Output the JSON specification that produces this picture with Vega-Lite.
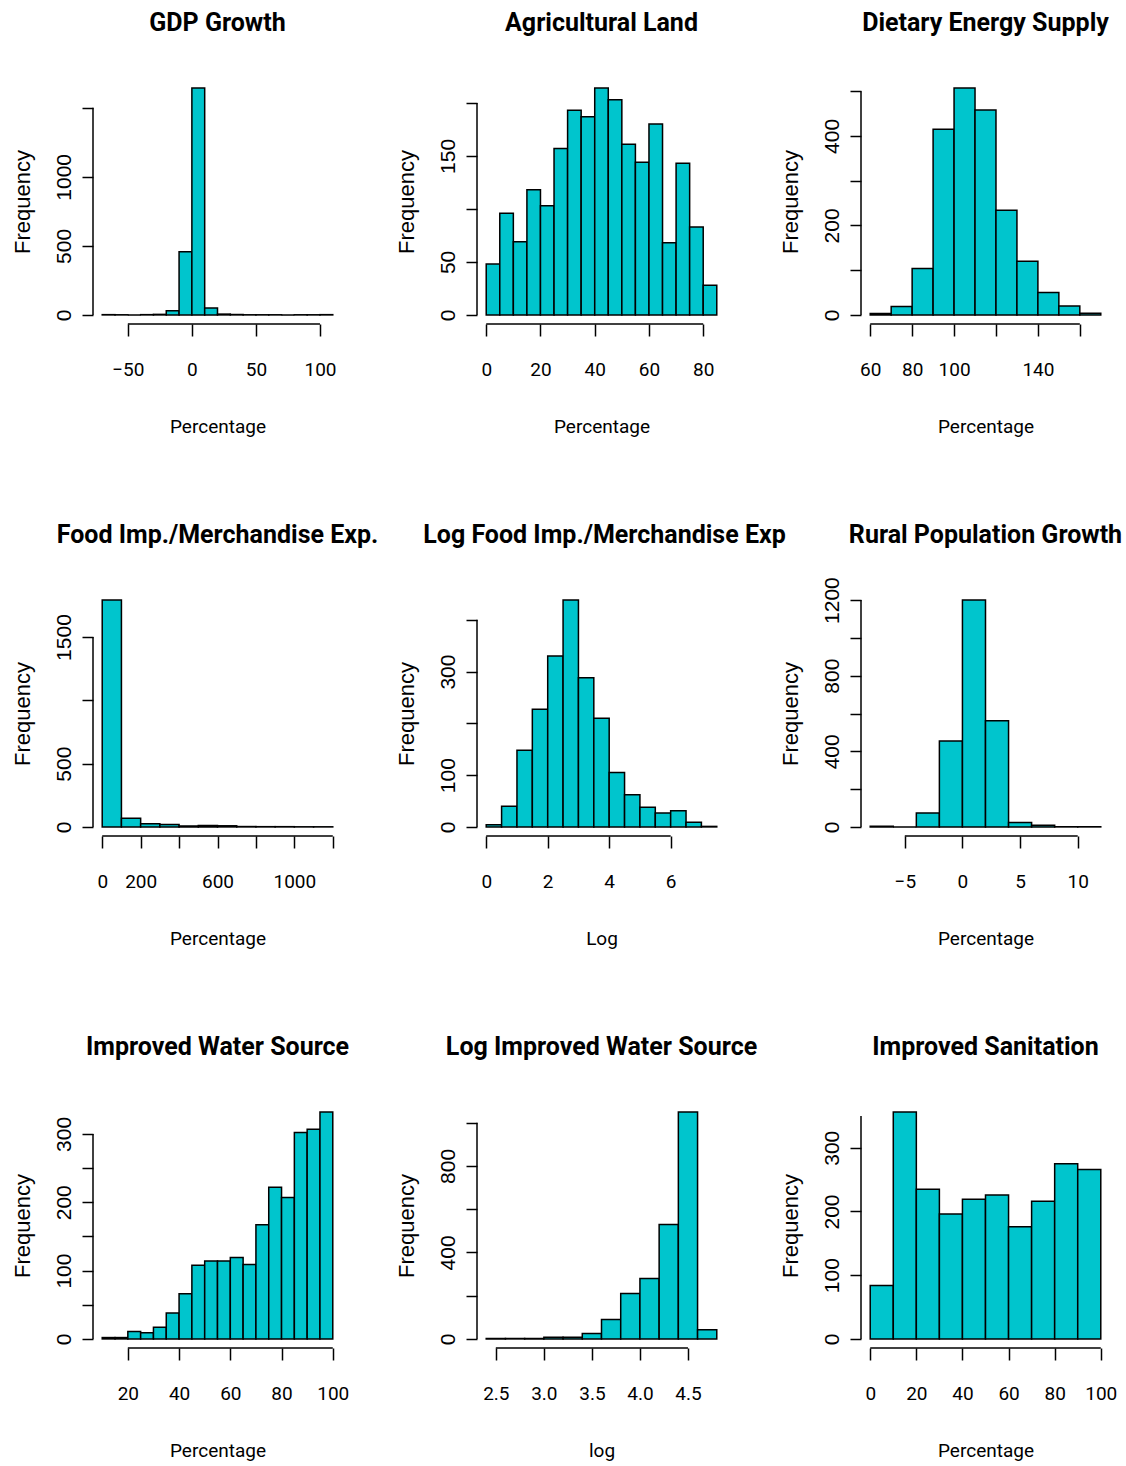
{
"$schema": "https://vega.github.io/schema/vega-lite/v6.json",
"background": "white",
"padding": {"left": 11, "top": 11, "right": 5, "bottom": 5},
"datasets": {
"p1": [{"start":-70,"end":-60,"count":2},{"start":-60,"end":-50,"count":1},{"start":-50,"end":-40,"count":0},{"start":-40,"end":-30,"count":2},{"start":-30,"end":-20,"count":4},{"start":-20,"end":-10,"count":30},{"start":-10,"end":0,"count":458},{"start":0,"end":10,"count":1643},{"start":10,"end":20,"count":50},{"start":20,"end":30,"count":6},{"start":30,"end":40,"count":3},{"start":40,"end":50,"count":1},{"start":50,"end":60,"count":1},{"start":60,"end":70,"count":1},{"start":70,"end":80,"count":0},{"start":80,"end":90,"count":1},{"start":90,"end":100,"count":1},{"start":100,"end":110,"count":2}],
"p2": [{"start":0,"end":5,"count":48},{"start":5,"end":10,"count":96},{"start":10,"end":15,"count":69},{"start":15,"end":20,"count":118},{"start":20,"end":25,"count":103},{"start":25,"end":30,"count":157},{"start":30,"end":35,"count":193},{"start":35,"end":40,"count":187},{"start":40,"end":45,"count":214},{"start":45,"end":50,"count":203},{"start":50,"end":55,"count":161},{"start":55,"end":60,"count":144},{"start":60,"end":65,"count":180},{"start":65,"end":70,"count":68},{"start":70,"end":75,"count":143},{"start":75,"end":80,"count":83},{"start":80,"end":85,"count":28}],
"p3": [{"start":60,"end":70,"count":3},{"start":70,"end":80,"count":19},{"start":80,"end":90,"count":104},{"start":90,"end":100,"count":415},{"start":100,"end":110,"count":507},{"start":110,"end":120,"count":458},{"start":120,"end":130,"count":234},{"start":130,"end":140,"count":120},{"start":140,"end":150,"count":50},{"start":150,"end":160,"count":20},{"start":160,"end":170,"count":4}],
"p4": [{"start":0,"end":100,"count":1792},{"start":100,"end":200,"count":68},{"start":200,"end":300,"count":26},{"start":300,"end":400,"count":20},{"start":400,"end":500,"count":8},{"start":500,"end":600,"count":12},{"start":600,"end":700,"count":9},{"start":700,"end":800,"count":3},{"start":800,"end":900,"count":2},{"start":900,"end":1000,"count":2},{"start":1000,"end":1100,"count":1},{"start":1100,"end":1200,"count":1}],
"p5": [{"start":0,"end":0.5,"count":4},{"start":0.5,"end":1,"count":40},{"start":1,"end":1.5,"count":148},{"start":1.5,"end":2,"count":227},{"start":2,"end":2.5,"count":330},{"start":2.5,"end":3,"count":438},{"start":3,"end":3.5,"count":288},{"start":3.5,"end":4,"count":210},{"start":4,"end":4.5,"count":105},{"start":4.5,"end":5,"count":62},{"start":5,"end":5.5,"count":38},{"start":5.5,"end":6,"count":27},{"start":6,"end":6.5,"count":31},{"start":6.5,"end":7,"count":9},{"start":7,"end":7.5,"count":1}],
"p6": [{"start":-8,"end":-6,"count":3},{"start":-6,"end":-4,"count":0},{"start":-4,"end":-2,"count":74},{"start":-2,"end":0,"count":455},{"start":0,"end":2,"count":1200},{"start":2,"end":4,"count":562},{"start":4,"end":6,"count":23},{"start":6,"end":8,"count":9},{"start":8,"end":10,"count":1},{"start":10,"end":12,"count":1}],
"p7": [{"start":10,"end":15,"count":2},{"start":15,"end":20,"count":2},{"start":20,"end":25,"count":11},{"start":25,"end":30,"count":9},{"start":30,"end":35,"count":17},{"start":35,"end":40,"count":38},{"start":40,"end":45,"count":66},{"start":45,"end":50,"count":108},{"start":50,"end":55,"count":114},{"start":55,"end":60,"count":114},{"start":60,"end":65,"count":119},{"start":65,"end":70,"count":109},{"start":70,"end":75,"count":167},{"start":75,"end":80,"count":222},{"start":80,"end":85,"count":207},{"start":85,"end":90,"count":302},{"start":90,"end":95,"count":307},{"start":95,"end":100,"count":332}],
"p8": [{"start":2.4,"end":2.6,"count":2},{"start":2.6,"end":2.8,"count":2},{"start":2.8,"end":3.0,"count":2},{"start":3.0,"end":3.2,"count":8},{"start":3.2,"end":3.4,"count":8},{"start":3.4,"end":3.6,"count":25},{"start":3.6,"end":3.8,"count":90},{"start":3.8,"end":4.0,"count":210},{"start":4.0,"end":4.2,"count":279},{"start":4.2,"end":4.4,"count":529},{"start":4.4,"end":4.6,"count":1049},{"start":4.6,"end":4.8,"count":42}],
"p9": [{"start":0,"end":10,"count":84},{"start":10,"end":20,"count":356},{"start":20,"end":30,"count":235},{"start":30,"end":40,"count":196},{"start":40,"end":50,"count":219},{"start":50,"end":60,"count":226},{"start":60,"end":70,"count":176},{"start":70,"end":80,"count":216},{"start":80,"end":90,"count":275},{"start":90,"end":100,"count":266}]
},
"columns": 3,
"spacing": {"row": 267, "column": 135},
"bounds": "flush",
"concat": [
{"width": 249, "height": 245, "title": "GDP Growth", "layer": [
 {"data": {"name": "p1"}, "mark": {"type": "bar", "fill": "#00C5CD", "stroke": "#000", "strokeWidth": 1.5},
  "encoding": {"x": {"field": "start", "type": "quantitative", "title": "Percentage", "scale": {"domain": [-77.2, 117.2], "nice": false, "zero": false}, "axis": {"values": [-50,0,50,100]}},
   "x2": {"field": "end"},
   "y": {"field": "count", "type": "quantitative", "title": "Frequency", "scale": {"domain": [-65.72, 1708.72], "nice": false, "zero": false}, "axis": {"values": [0,500,1000,1500], "labelExpr": "datum.value == 1500 ? '' : datum.label"}},
   "y2": {"datum": 0}}},
 {"data": {"values": [{}]}, "mark": {"type": "rule", "stroke": "#000", "strokeWidth": 1.5}, "encoding": {"x": {"datum": -77.2}, "y": {"datum": 0}, "y2": {"datum": 1500}}},
 {"data": {"values": [{}]}, "mark": {"type": "rule", "stroke": "#000", "strokeWidth": 1.5}, "encoding": {"y": {"datum": -65.72}, "x": {"datum": -50}, "x2": {"datum": 100}}}
]},
{"width": 249, "height": 245, "title": "Agricultural Land", "layer": [
 {"data": {"name": "p2"}, "mark": {"type": "bar", "fill": "#00C5CD", "stroke": "#000", "strokeWidth": 1.5},
  "encoding": {"x": {"field": "start", "type": "quantitative", "title": "Percentage", "scale": {"domain": [-3.4, 88.4], "nice": false, "zero": false}, "axis": {"values": [0,20,40,60,80]}},
   "x2": {"field": "end"},
   "y": {"field": "count", "type": "quantitative", "title": "Frequency", "scale": {"domain": [-8.56, 222.56], "nice": false, "zero": false}, "axis": {"values": [0,50,100,150,200], "labelExpr": "indexof([100,200], datum.value) >= 0 ? '' : datum.label"}},
   "y2": {"datum": 0}}},
 {"data": {"values": [{}]}, "mark": {"type": "rule", "stroke": "#000", "strokeWidth": 1.5}, "encoding": {"x": {"datum": -3.4}, "y": {"datum": 0}, "y2": {"datum": 200}}},
 {"data": {"values": [{}]}, "mark": {"type": "rule", "stroke": "#000", "strokeWidth": 1.5}, "encoding": {"y": {"datum": -8.56}, "x": {"datum": 0}, "x2": {"datum": 80}}}
]},
{"width": 249, "height": 245, "title": "Dietary Energy Supply", "layer": [
 {"data": {"name": "p3"}, "mark": {"type": "bar", "fill": "#00C5CD", "stroke": "#000", "strokeWidth": 1.5},
  "encoding": {"x": {"field": "start", "type": "quantitative", "title": "Percentage", "scale": {"domain": [55.6, 174.4], "nice": false, "zero": false}, "axis": {"values": [60,80,100,120,140,160], "labelExpr": "indexof([120,160], datum.value) >= 0 ? '' : datum.label"}},
   "x2": {"field": "end"},
   "y": {"field": "count", "type": "quantitative", "title": "Frequency", "scale": {"domain": [-20.28, 527.28], "nice": false, "zero": false}, "axis": {"values": [0,100,200,300,400,500], "labelExpr": "indexof([100,300,500], datum.value) >= 0 ? '' : datum.label"}},
   "y2": {"datum": 0}}},
 {"data": {"values": [{}]}, "mark": {"type": "rule", "stroke": "#000", "strokeWidth": 1.5}, "encoding": {"x": {"datum": 55.6}, "y": {"datum": 0}, "y2": {"datum": 500}}},
 {"data": {"values": [{}]}, "mark": {"type": "rule", "stroke": "#000", "strokeWidth": 1.5}, "encoding": {"y": {"datum": -20.28}, "x": {"datum": 60}, "x2": {"datum": 160}}}
]},
{"width": 249, "height": 245, "title": "Food Imp./Merchandise Exp.", "layer": [
 {"data": {"name": "p4"}, "mark": {"type": "bar", "fill": "#00C5CD", "stroke": "#000", "strokeWidth": 1.5},
  "encoding": {"x": {"field": "start", "type": "quantitative", "title": "Percentage", "scale": {"domain": [-48, 1248], "nice": false, "zero": false}, "axis": {"values": [0,200,400,600,800,1000,1200], "labelExpr": "indexof([400,800,1200], datum.value) >= 0 ? '' : datum.label"}},
   "x2": {"field": "end"},
   "y": {"field": "count", "type": "quantitative", "title": "Frequency", "scale": {"domain": [-71.68, 1863.68], "nice": false, "zero": false}, "axis": {"values": [0,500,1000,1500], "labelExpr": "datum.value == 1000 ? '' : datum.label"}},
   "y2": {"datum": 0}}},
 {"data": {"values": [{}]}, "mark": {"type": "rule", "stroke": "#000", "strokeWidth": 1.5}, "encoding": {"x": {"datum": -48}, "y": {"datum": 0}, "y2": {"datum": 1500}}},
 {"data": {"values": [{}]}, "mark": {"type": "rule", "stroke": "#000", "strokeWidth": 1.5}, "encoding": {"y": {"datum": -71.68}, "x": {"datum": 0}, "x2": {"datum": 1200}}}
]},
{"width": 249, "height": 245, "title": {"text": "Log Food Imp./Merchandise Exp", "dx": 3}, "layer": [
 {"data": {"name": "p5"}, "mark": {"type": "bar", "fill": "#00C5CD", "stroke": "#000", "strokeWidth": 1.5},
  "encoding": {"x": {"field": "start", "type": "quantitative", "title": "Log", "scale": {"domain": [-0.3, 7.8], "nice": false, "zero": false}, "axis": {"values": [0,2,4,6]}},
   "x2": {"field": "end"},
   "y": {"field": "count", "type": "quantitative", "title": "Frequency", "scale": {"domain": [-17.52, 455.52], "nice": false, "zero": false}, "axis": {"values": [0,100,200,300,400], "labelExpr": "indexof([200,400], datum.value) >= 0 ? '' : datum.label"}},
   "y2": {"datum": 0}}},
 {"data": {"values": [{}]}, "mark": {"type": "rule", "stroke": "#000", "strokeWidth": 1.5}, "encoding": {"x": {"datum": -0.3}, "y": {"datum": 0}, "y2": {"datum": 400}}},
 {"data": {"values": [{}]}, "mark": {"type": "rule", "stroke": "#000", "strokeWidth": 1.5}, "encoding": {"y": {"datum": -17.52}, "x": {"datum": 0}, "x2": {"datum": 6}}}
]},
{"width": 249, "height": 245, "title": {"text": "Rural Population Growth", "offset": 29}, "layer": [
 {"data": {"name": "p6"}, "mark": {"type": "bar", "fill": "#00C5CD", "stroke": "#000", "strokeWidth": 1.5},
  "encoding": {"x": {"field": "start", "type": "quantitative", "title": "Percentage", "scale": {"domain": [-8.8, 12.8], "nice": false, "zero": false}, "axis": {"values": [-5,0,5,10]}},
   "x2": {"field": "end"},
   "y": {"field": "count", "type": "quantitative", "title": "Frequency", "scale": {"domain": [-48, 1248], "nice": false, "zero": false}, "axis": {"values": [0,200,400,600,800,1000,1200], "labelExpr": "indexof([200,600,1000], datum.value) >= 0 ? '' : datum.label"}},
   "y2": {"datum": 0}}},
 {"data": {"values": [{}]}, "mark": {"type": "rule", "stroke": "#000", "strokeWidth": 1.5}, "encoding": {"x": {"datum": -8.8}, "y": {"datum": 0}, "y2": {"datum": 1200}}},
 {"data": {"values": [{}]}, "mark": {"type": "rule", "stroke": "#000", "strokeWidth": 1.5}, "encoding": {"y": {"datum": -48}, "x": {"datum": -5}, "x2": {"datum": 10}}}
]},
{"width": 249, "height": 245, "title": "Improved Water Source", "layer": [
 {"data": {"name": "p7"}, "mark": {"type": "bar", "fill": "#00C5CD", "stroke": "#000", "strokeWidth": 1.5},
  "encoding": {"x": {"field": "start", "type": "quantitative", "title": "Percentage", "scale": {"domain": [6.4, 103.6], "nice": false, "zero": false}, "axis": {"values": [20,40,60,80,100]}},
   "x2": {"field": "end"},
   "y": {"field": "count", "type": "quantitative", "title": "Frequency", "scale": {"domain": [-13.28, 345.28], "nice": false, "zero": false}, "axis": {"values": [0,50,100,150,200,250,300], "labelExpr": "indexof([50,150,250], datum.value) >= 0 ? '' : datum.label"}},
   "y2": {"datum": 0}}},
 {"data": {"values": [{}]}, "mark": {"type": "rule", "stroke": "#000", "strokeWidth": 1.5}, "encoding": {"x": {"datum": 6.4}, "y": {"datum": 0}, "y2": {"datum": 300}}},
 {"data": {"values": [{}]}, "mark": {"type": "rule", "stroke": "#000", "strokeWidth": 1.5}, "encoding": {"y": {"datum": -13.28}, "x": {"datum": 20}, "x2": {"datum": 100}}}
]},
{"width": 249, "height": 245, "title": "Log Improved Water Source", "layer": [
 {"data": {"name": "p8"}, "mark": {"type": "bar", "fill": "#00C5CD", "stroke": "#000", "strokeWidth": 1.5},
  "encoding": {"x": {"field": "start", "type": "quantitative", "title": "log", "scale": {"domain": [2.304, 4.896], "nice": false, "zero": false}, "axis": {"values": [2.5,3,3.5,4,4.5], "format": ".1f"}},
   "x2": {"field": "end"},
   "y": {"field": "count", "type": "quantitative", "title": "Frequency", "scale": {"domain": [-41.96, 1090.96], "nice": false, "zero": false}, "axis": {"values": [0,200,400,600,800,1000], "labelExpr": "indexof([200,600,1000], datum.value) >= 0 ? '' : datum.label"}},
   "y2": {"datum": 0}}},
 {"data": {"values": [{}]}, "mark": {"type": "rule", "stroke": "#000", "strokeWidth": 1.5}, "encoding": {"x": {"datum": 2.304}, "y": {"datum": 0}, "y2": {"datum": 1000}}},
 {"data": {"values": [{}]}, "mark": {"type": "rule", "stroke": "#000", "strokeWidth": 1.5}, "encoding": {"y": {"datum": -41.96}, "x": {"datum": 2.5}, "x2": {"datum": 4.5}}}
]},
{"width": 249, "height": 245, "title": "Improved Sanitation", "layer": [
 {"data": {"name": "p9"}, "mark": {"type": "bar", "fill": "#00C5CD", "stroke": "#000", "strokeWidth": 1.5},
  "encoding": {"x": {"field": "start", "type": "quantitative", "title": "Percentage", "scale": {"domain": [-4, 104], "nice": false, "zero": false}, "axis": {"values": [0,20,40,60,80,100]}},
   "x2": {"field": "end"},
   "y": {"field": "count", "type": "quantitative", "title": "Frequency", "scale": {"domain": [-14.24, 370.24], "nice": false, "zero": false}, "axis": {"values": [0,50,100,150,200,250,300,350], "labelExpr": "indexof([50,150,250,350], datum.value) >= 0 ? '' : datum.label"}},
   "y2": {"datum": 0}}},
 {"data": {"values": [{}]}, "mark": {"type": "rule", "stroke": "#000", "strokeWidth": 1.5}, "encoding": {"x": {"datum": -4}, "y": {"datum": 0}, "y2": {"datum": 350}}},
 {"data": {"values": [{}]}, "mark": {"type": "rule", "stroke": "#000", "strokeWidth": 1.5}, "encoding": {"y": {"datum": -14.24}, "x": {"datum": 0}, "x2": {"datum": 100}}}
]}
],
"config": {
 "view": {"stroke": null},
 "axis": {"grid": false, "domain": false, "format": "d", "tickColor": "#000", "tickWidth": 1.5, "labelColor": "#000", "titleColor": "#000", "titleFontWeight": "normal", "labelFlush": false, "labelOverlap": false},
 "axisX": {"tickSize": 12, "labelFont": "Roboto", "labelFontSize": 19, "labelBaseline": "alphabetic", "labelPadding": 39, "titleFont": "Roboto", "titleFontSize": 19, "titleBaseline": "alphabetic", "titleX": 124.5, "titleY": 108.5, "titleAlign": "center"},
 "axisY": {"tickSize": 11, "labelFont": "Liberation Sans", "labelFontSize": 21, "labelAngle": 270, "labelAlign": "center", "labelBaseline": "alphabetic", "labelPadding": 11.6, "titleFont": "Liberation Sans", "titleFontSize": 22, "titleAngle": 270, "titleBaseline": "alphabetic", "titleAlign": "center", "titleX": -64, "titleY": 122.5},
 "title": {"font": "Roboto", "fontSize": 25, "fontWeight": "bold", "baseline": "alphabetic", "offset": 43, "color": "#000", "anchor": "middle"}
}
}
